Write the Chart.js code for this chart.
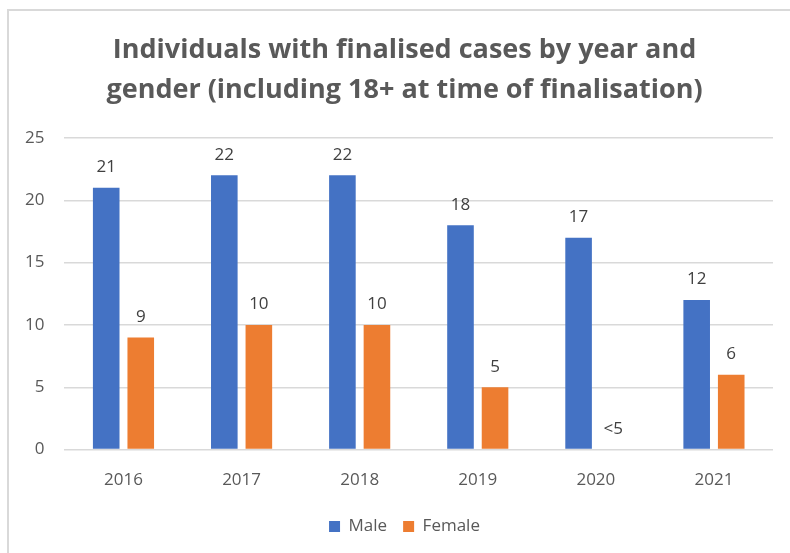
<!DOCTYPE html>
<html>
<head>
<meta charset="utf-8">
<script src="https://cdn.jsdelivr.net/npm/chart.js@4"></script>
<style>
    html, body {
        margin: 0;
        padding: 0;
        background: #fff;
    }
    #wrap {
        position: absolute;
        left: 0;
        top: 0;
        width: 790px;
        height: 553px;
    }
    #frame {
        position: absolute;
        left: 7px;
        top: 9px;
        width: 800px;
        height: 560px;
        border-top: 2px solid #d9d9d9;
        border-left: 2px solid #d9d9d9;
    }
    canvas {
        position: absolute;
        left: 0;
        top: 0;
    }
</style>
</head>
<body>
<div id="wrap">
    <div id="frame"></div>
    <canvas id="bar-chart" width="790" height="553"></canvas>
</div>
<script>
const years = ['2016', '2017', '2018', '2019', '2020', '2021'];
const maleValues = [21, 22, 22, 18, 17, 12];
// 2020 female count was suppressed in the source (shown as "<5"), no bar drawn
const femaleValues = [9, 10, 10, 5, 0, 6];
const maleLabels = ['21', '22', '22', '18', '17', '12'];
const femaleLabels = ['9', '10', '10', '5', '<5', '6'];
const yTicks = [0, 5, 10, 15, 20, 25];

const titleLines = [
    'Individuals with finalised cases by year and',
    'gender (including 18+ at time of finalisation)',
];

const FONT = '"Open Sans", "Noto Sans", sans-serif';

// draws the value labels above each bar
const barLabels = {
    id: 'barLabels',
    afterDatasetsDraw(chart) {
        const ctx = chart.ctx;
        ctx.save();
        ctx.font = '17px ' + FONT;
        ctx.fillStyle = '#404040';
        ctx.textAlign = 'center';
        ctx.textBaseline = 'bottom';
        chart.data.datasets.forEach((ds, i) => {
            const meta = chart.getDatasetMeta(i);
            meta.data.forEach((bar, j) => {
                ctx.fillText(ds.valueLabels[j], bar.x, bar.y - 12);
            });
        });
        ctx.restore();
    }
};

// title + legend are centred on the outer frame, not on the padded area
const centreOnFrame = {
    id: 'centreOnFrame',
    afterLayout(chart) {
        const shift = 31;
        chart.titleBlock.left += shift;
        chart.legend.left += shift;
    }
};

window.chart = new Chart(document.getElementById('bar-chart'), {
    type: 'bar',
    data: {
        labels: years,
        datasets: [
            {
                label: 'Male',
                data: maleValues,
                valueLabels: maleLabels,
                backgroundColor: '#4472c4',
                barPercentage: 0.77,
                categoryPercentage: 0.585,
            },
            {
                label: 'Female',
                data: femaleValues,
                valueLabels: femaleLabels,
                backgroundColor: '#ed7d31',
                barPercentage: 0.77,
                categoryPercentage: 0.585,
            },
        ],
    },
    plugins: [barLabels, centreOnFrame],
    options: {
        responsive: false,
        animation: false,
        layout: {
            padding: {
                left: 5,
                right: 17,
                top: 30,
                bottom: 8,
            }
        },
        plugins: {
            title: {
                display: true,
                text: titleLines,
                color: '#595959',
                font: {
                    family: FONT,
                    size: 27,
                    weight: 'bold',
                    lineHeight: 1.48,
                },
                padding: {
                    top: 0,
                    bottom: 28,
                },
            },
            legend: {
                position: 'bottom',
                labels: {
                    color: '#595959',
                    boxWidth: 11,
                    boxHeight: 11,
                    padding: 16,
                    font: {
                        family: FONT,
                        size: 17,
                    },
                },
            },
            tooltip: {
                enabled: false,
            },
        },
        scales: {
            x: {
                grid: {
                    display: false,
                },
                border: {
                    display: false,
                },
                ticks: {
                    color: '#595959',
                    padding: 12,
                    font: {
                        family: FONT,
                        size: 17,
                    },
                },
            },
            y: {
                min: 0,
                max: 25,
                afterBuildTicks: (axis) => {
                    axis.ticks = yTicks.map(v => ({ value: v }));
                },
                grid: {
                    color: '#d9d9d9',
                    lineWidth: 1.5,
                    drawTicks: false,
                },
                border: {
                    display: false,
                },
                ticks: {
                    color: '#595959',
                    padding: 20,
                    font: {
                        family: FONT,
                        size: 17,
                    },
                },
            },
        },
    },
});
</script>
</body>
</html>
